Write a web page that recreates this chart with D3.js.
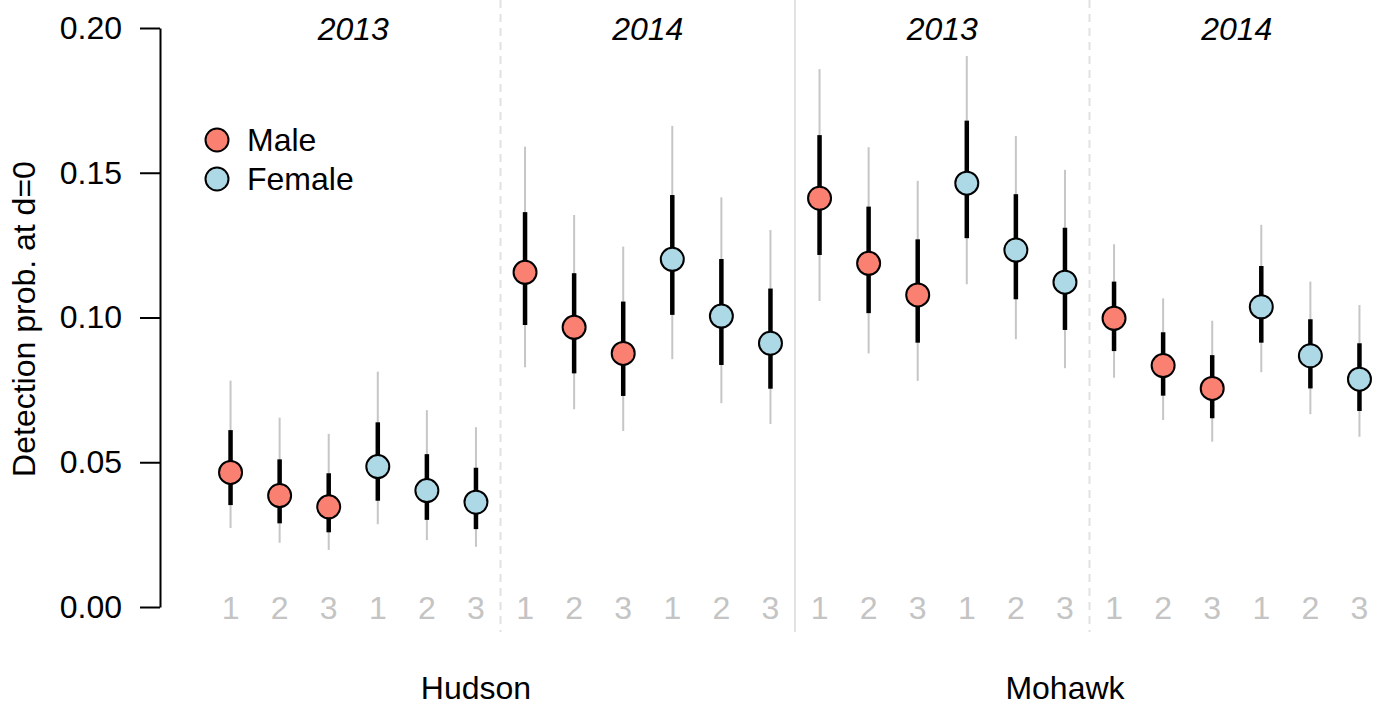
<!DOCTYPE html>
<html>
<head>
<meta charset="utf-8">
<script src="https://d3js.org/d3.v7.min.js"></script>
<style>
  body { margin: 0; background: #fff; }
  text { font-family: "Liberation Sans", Arial, Helvetica, sans-serif; }
</style>
</head>
<body>
<div id="chart"></div>
<script>
// categories
const rivers = ["Hudson", "Mohawk"];
const years = ["2013", "2014"];
const sexes = ["Male", "Female"];
const periods = [1, 2, 3];
const yTicks = [0, 0.05, 0.10, 0.15, 0.20];

// estimates, ordered river > year > sex > period
const est  = [0.0465,0.0385,0.0346,0.0485,0.0402,0.0362,
              0.1156,0.0966,0.0876,0.1201,0.1005,0.0911,
              0.1412,0.1187,0.1078,0.1464,0.1233,0.1122,
              0.0997,0.0834,0.0755,0.1037,0.0868,0.0787];
const lo50 = [0.0352,0.0289,0.0258,0.0367,0.0301,0.0269,
              0.0974,0.0807,0.0729,0.1009,0.0836,0.0754,
              0.1216,0.1015,0.0913,0.1274,0.1063,0.0957,
              0.0884,0.0730,0.0652,0.0913,0.0755,0.0677];
const hi50 = [0.0611,0.0510,0.0462,0.0638,0.0528,0.0481,
              0.1364,0.1153,0.1055,0.1423,0.1202,0.1100,
              0.1630,0.1383,0.1270,0.1680,0.1426,0.1310,
              0.1124,0.0949,0.0870,0.1178,0.0994,0.0911];
const lo95 = [0.0273,0.0222,0.0197,0.0286,0.0231,0.0208,
              0.0828,0.0683,0.0608,0.0856,0.0704,0.0632,
              0.1057,0.0876,0.0781,0.1115,0.0925,0.0825,
              0.0792,0.0646,0.0571,0.0811,0.0666,0.0588];
const hi95 = [0.0782,0.0654,0.0598,0.0813,0.0680,0.0621,
              0.1590,0.1354,0.1245,0.1662,0.1415,0.1302,
              0.1858,0.1588,0.1472,0.1903,0.1627,0.1510,
              0.1253,0.1066,0.0989,0.1320,0.1124,0.1043];

const colors = {Male: "#FA8072", Female: "#ADD8E6"};

// build rows
const rows = [];
rivers.forEach(r => years.forEach(y => sexes.forEach(s => periods.forEach(p => {
  const i = rows.length;
  rows.push({i, river: r, year: y, sex: s, period: p,
    est: est[i], lo50: lo50[i], hi50: hi50[i], lo95: lo95[i], hi95: hi95[i]});
}))));

const W = 1383, H = 706, fs = 32;
const svg = d3.select("#chart").append("svg").attr("width", W).attr("height", H);

const x = d3.scalePoint().domain(d3.range(rows.length)).range([206, 1384]).padding(0.5);
const y = d3.scaleLinear().domain([0, 0.20]).range([607, 28]);
const step = x.step();

// dividers between year groups
const perYear = sexes.length * periods.length;
const divs = [1, 2, 3].map(k => ({x: x(k * perYear) - step / 2, solid: k === 2}));
svg.selectAll(".div").data(divs).join("line")
  .attr("x1", d => d.x).attr("x2", d => d.x)
  .attr("y1", 0).attr("y2", 632)
  .attr("stroke", "#e2e2e2").attr("stroke-width", 2)
  .attr("stroke-dasharray", d => d.solid ? null : "8,6");

// y axis
const yAxis = svg.append("g").attr("transform", "translate(160,0)")
  .call(d3.axisLeft(y).tickValues(yTicks).tickFormat(d3.format(".2f")).tickSize(20).tickSizeOuter(0).tickPadding(18));
yAxis.select(".domain").attr("stroke", "#000").attr("stroke-width", 2);
yAxis.selectAll(".tick line").attr("stroke", "#000").attr("stroke-width", 2);
yAxis.selectAll(".tick text").attr("font-size", fs).attr("fill", "#000")
  .attr("font-family", "Liberation Sans, Arial, sans-serif");

svg.append("text")
  .attr("transform", "translate(35,319) rotate(-90)")
  .attr("text-anchor", "middle").attr("font-size", fs)
  .text("Detection prob. at d=0");

// intervals
svg.selectAll(".ci95").data(rows).join("line")
  .attr("x1", d => x(d.i)).attr("x2", d => x(d.i))
  .attr("y1", d => y(d.lo95)).attr("y2", d => y(d.hi95))
  .attr("stroke", "#c6c6c6").attr("stroke-width", 2);
svg.selectAll(".ci50").data(rows).join("line")
  .attr("x1", d => x(d.i)).attr("x2", d => x(d.i))
  .attr("y1", d => y(d.lo50)).attr("y2", d => y(d.hi50))
  .attr("stroke", "#000").attr("stroke-width", 4.5);
svg.selectAll(".pt").data(rows).join("circle")
  .attr("cx", d => x(d.i)).attr("cy", d => y(d.est)).attr("r", 11.5)
  .attr("fill", d => colors[d.sex]).attr("stroke", "#000").attr("stroke-width", 2);

// period labels
svg.selectAll(".per").data(rows).join("text")
  .attr("x", d => x(d.i)).attr("y", 619)
  .attr("text-anchor", "middle").attr("font-size", fs).attr("fill", "#c4c4c4")
  .text(d => d.period);

// year labels
const yearGroups = d3.range(rivers.length * years.length).map(k => ({
  label: years[k % years.length],
  x: (x(k * perYear) + x(k * perYear + perYear - 1)) / 2
}));
svg.selectAll(".yr").data(yearGroups).join("text")
  .attr("x", d => d.x).attr("y", 40)
  .attr("text-anchor", "middle").attr("font-size", fs).attr("font-style", "italic")
  .text(d => d.label);

// river labels
const perRiver = perYear * years.length;
svg.selectAll(".riv").data(rivers).join("text")
  .attr("x", (d, k) => x(k * perRiver + perYear - 1))
  .attr("y", 699)
  .attr("text-anchor", "middle").attr("font-size", fs)
  .text(d => d);

// legend
const leg = svg.selectAll(".leg").data(sexes).join("g")
  .attr("transform", (d, k) => `translate(217,${140 + k * 39})`);
leg.append("circle").attr("r", 11.5)
  .attr("fill", d => colors[d]).attr("stroke", "#000").attr("stroke-width", 2);
leg.append("text").attr("x", 30).attr("y", 11)
  .attr("font-size", fs).text(d => d);
</script>
</body>
</html>
